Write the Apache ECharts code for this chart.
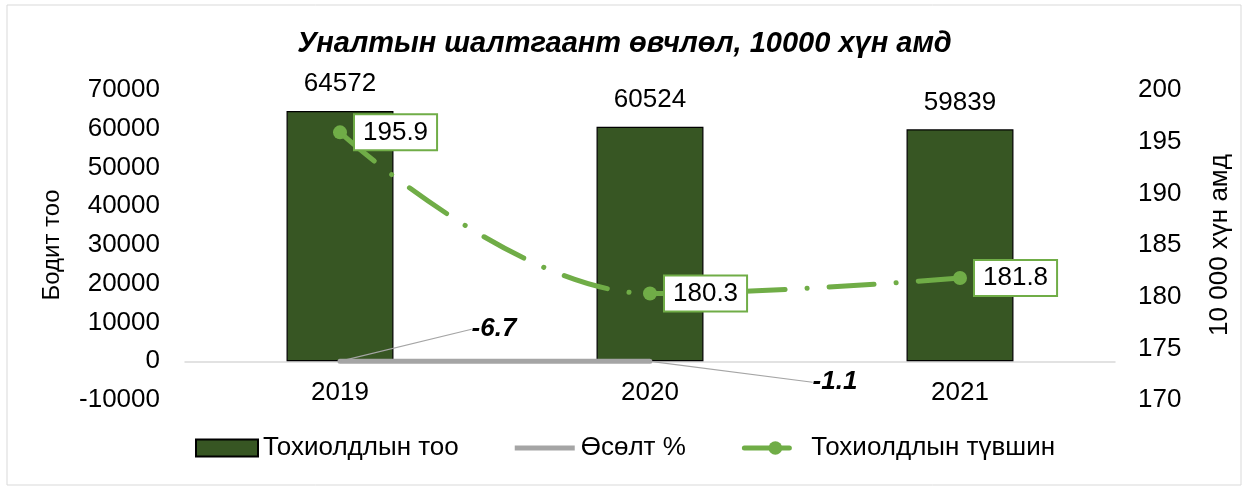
<!DOCTYPE html>
<html>
  <meta charset="UTF-8">
  <title>Уналтын шалтгаант өвчлөл</title>
  <style type="text/css">
    html,body{margin:0px;height:100%;width:100%;background:#fff}
    .container{width:1249px;height:488px}
  </style>
  <script type="text/javascript" src="https://cdn.jsdelivr.net/npm/echarts@6/dist/echarts.min.js"></script>
  <body>
    <div id="chart" class="container"></div>

    <script>
      var years = ['2019', '2020', '2021'];
      var cases = [64572, 60524, 59839];
      var growth = [-6.7, -1.1, null];
      var rate = [195.9, 180.3, 181.8];

      var font = 'Liberation Sans, Arial, sans-serif';
      var chart = echarts.init(document.getElementById('chart'));

      // thin bar inside a taller box so the legend icon looks like a thick line
      var grayIcon = 'path://M0,0L0,0M0,6L60,6L60,11L0,11ZM60,17L60,17';

      var option = {
        textStyle: { fontFamily: font },
        graphic: [{
          type: 'rect',
          shape: { x: 7, y: 5, width: 1234, height: 480 },
          style: { fill: 'none', stroke: '#d9d9d9', lineWidth: 1 },
          silent: true
        }],
        title: {
          text: 'Уналтын шалтгаант өвчлөл, 10000 хүн амд',
          left: 'center',
          top: 24,
          textStyle: { fontSize: 29, fontWeight: 'bold', fontStyle: 'italic', color: '#000', fontFamily: font }
        },
        legend: {
          bottom: 22,
          left: 190,
          itemGap: 56,
          itemWidth: 62,
          itemHeight: 17,
          textStyle: { fontSize: 26, color: '#000', fontFamily: font },
          data: [
            { name: 'Тохиолдлын тоо', icon: 'rect' },
            { name: 'Өсөлт %', icon: grayIcon, itemStyle: { color: '#a5a5a5', borderWidth: 0 } },
            { name: 'Тохиолдлын түвшин', lineStyle: { width: 5 } }
          ]
        },
        grid: { left: 185, right: 134, top: 90, bottom: 88 },
        xAxis: {
          type: 'category',
          data: years,
          axisTick: { show: false },
          axisLine: { onZero: true, onZeroAxisIndex: 0, lineStyle: { color: '#d9d9d9', width: 1.5 } },
          axisLabel: { fontSize: 26, color: '#000', margin: -20 }
        },
        yAxis: [{
          type: 'value',
          min: -10000, max: 70000, interval: 10000,
          name: 'Бодит тоо',
          nameLocation: 'middle',
          nameGap: 121,
          nameTextStyle: { fontSize: 24, color: '#000' },
          splitLine: { show: false },
          axisLabel: {
            fontSize: 26, color: '#000', margin: 25,
            formatter: function (v) { return String(v); }
          }
        }, {
          type: 'value',
          min: 170, max: 200, interval: 5,
          name: '10 000 хүн амд',
          nameLocation: 'middle',
          nameGap: 92,
          nameTextStyle: { fontSize: 26, color: '#000' },
          splitLine: { show: false },
          axisLabel: { fontSize: 26, color: '#000', margin: 23 }
        }],
        series: [{
          name: 'Тохиолдлын тоо',
          type: 'bar',
          data: cases,
          barWidth: '34.5%',
          itemStyle: { color: '#375623', borderColor: '#000', borderWidth: 1.2 },
          label: { show: true, position: 'top', distance: 14, fontSize: 26, color: '#000' }
        }, {
          name: 'Өсөлт %',
          type: 'line',
          data: growth,
          symbol: 'circle',
          symbolSize: 1,
          z: 3,
          lineStyle: { color: '#a5a5a5', width: 5, cap: 'round' },
          itemStyle: { color: '#a5a5a5' },
          label: {
            show: true,
            position: 'inside',
            fontSize: 26,
            fontWeight: 'bold',
            fontStyle: 'italic',
            color: '#000'
          },
          labelLine: { show: true, lineStyle: { color: '#a5a5a5', width: 1.2 } },
          labelLayout: function (p) {
            if (p.dataIndex === 0) return { dx: 154, dy: -32 };
            return { dx: 185, dy: 21 };
          }
        }, {
          name: 'Тохиолдлын түвшин',
          type: 'line',
          yAxisIndex: 1,
          data: rate,
          smooth: 0.4,
          symbol: 'circle',
          symbolSize: 14,
          z: 4,
          itemStyle: { color: '#70ad47' },
          lineStyle: { color: '#70ad47', width: 5, cap: 'round', type: [45, 22, 0.1, 22] },
          label: {
            show: true,
            position: 'right',
            distance: 8,
            fontSize: 26,
            color: '#000',
            backgroundColor: '#fff',
            borderColor: '#70ad47',
            borderWidth: 2,
            padding: [5, 8, 3, 8]
          }
        }]
      };
      chart.setOption(option);
    </script>
  </body>
</html>
